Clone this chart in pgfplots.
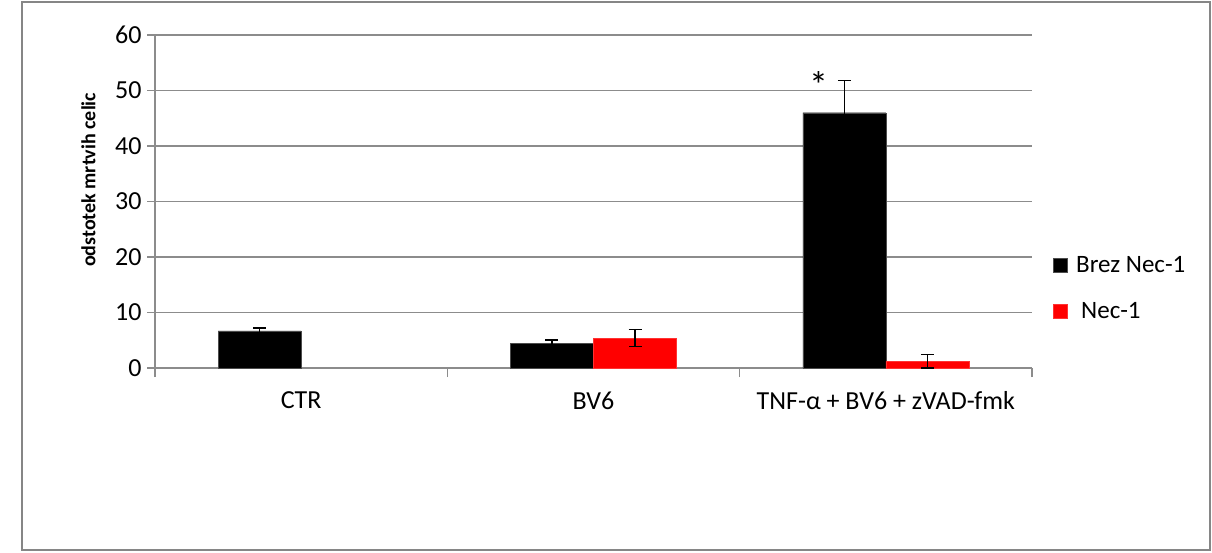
\documentclass[border=0pt]{standalone}
\usepackage{fontspec}
\setmainfont{Carlito}
\usepackage{pgfplots}
\pgfplotsset{compat=1.18}
\definecolor{gridgray}{RGB}{140,140,140}
\definecolor{bordergray}{RGB}{134,134,134}
\begin{document}
\begin{tikzpicture}[x=1pt,y=1pt]
\useasboundingbox (0,0) rectangle (1212,552);
\draw[bordergray, line width=1.2pt] (22,2) rectangle (1210,550);
\begin{axis}[
  at={(155pt,184pt)}, anchor=south west,
  scale only axis, width=877pt, height=333pt,
  xmin=-0.5, xmax=2.5, ymin=0, ymax=60,
  ytick={0,10,...,60},
  xtick={0,1,2},
  xticklabels={CTR, BV6, TNF-α + BV6 + zVAD-fmk},
  minor xtick={-0.5,0.5,1.5,2.5},
  major x tick style={draw=none},
  minor x tick style={gridgray, line width=1.2pt},
  minor tick length=9pt,
  major tick length=8pt,
  tick align=outside,
  ymajorgrids, grid style={gridgray, line width=1.2pt},
  axis x line*=bottom, axis y line*=left,
  axis line style={gridgray, line width=1.2pt, -},
  ytick style={gridgray, line width=1.2pt},
  tick label style={font=\fontsize{26}{30}\selectfont, black},
  /pgf/number format/assume math mode=true,
  yticklabel style={xshift=-2pt},
  xticklabel style={yshift=-12pt},
  ylabel={odstotek mrtvih celic},
  ylabel style={font=\bfseries\fontsize{20}{24}\selectfont, at={(axis description cs:-0.076,0.565)}, anchor=center, rotate=0},
  legend style={draw=none, fill=none, at={(1.02,0.24)}, anchor=west,
    font=\fontsize{25}{30}\selectfont, row sep=24pt},
  legend cell align=left,
  legend image code/.code={\fill[#1] (0pt,-7pt) rectangle (14pt,7pt); \path (20pt,0pt);},
  every axis legend/.append style={nodes={inner xsep=3pt}},
  clip=false,
]
\addplot[ybar, bar width=0.284, bar shift=0, fill=black, draw=black!70,
  error bars/.cd, y dir=both, y explicit,
  error bar style={black, line width=1.4pt},
  error mark options={black, rotate=90, mark size=6.5pt, line width=1.4pt}]
  coordinates {(-0.142,6.7) +- (0,0.5) (0.858,4.5) +- (0,0.55) (1.858,46.0) +- (0,5.8)};
\addplot[ybar, bar width=0.284, bar shift=0, fill=red, draw=red!80,
  error bars/.cd, y dir=both, y explicit,
  error bar style={black, line width=1.4pt},
  error mark options={black, rotate=90, mark size=6.5pt, line width=1.4pt}]
  coordinates {(1.142,5.4) +- (0,1.5) (2.142,1.2) +- (0,1.2)};
\legend{Brez Nec-1, \hspace{5pt}Nec-1}
\node[font=\fontsize{38}{40}\selectfont, anchor=center] at (axis cs:1.77,50.9) {*};
\end{axis}
\end{tikzpicture}
\end{document}
